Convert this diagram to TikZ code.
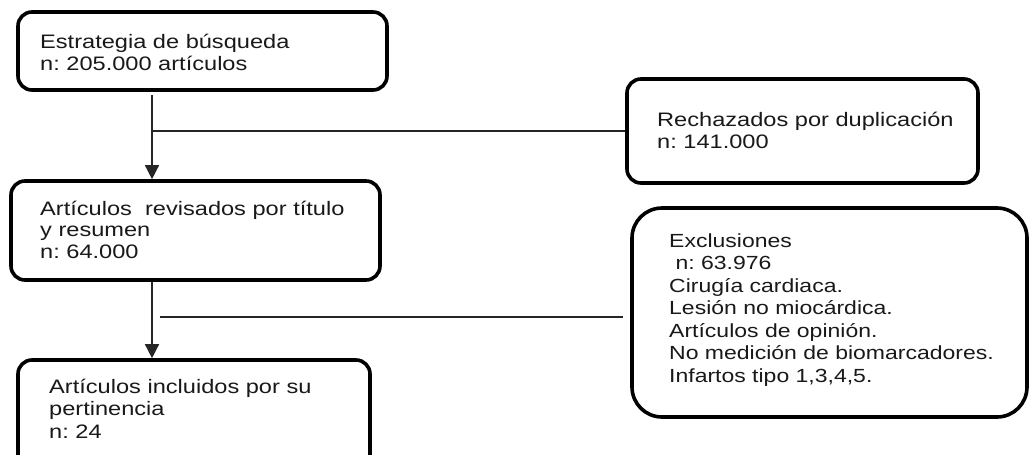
\documentclass[tikz,border=0pt]{standalone}
\usepackage{fontspec}
\setmainfont{Liberation Sans}[FakeStretch=1.21]
\usetikzlibrary{arrows.meta}
\frenchspacing
\begin{document}
\begin{tikzpicture}[x=1pt,y=-1pt,
  box/.style={draw=black, line width=3.6pt, rounded corners=14pt, inner sep=0pt, fill=white},
  txt/.style={anchor=base west, align=left, inner sep=0pt, font=\fontsize{19.5}{22}\selectfont, text=black!90},
  conn/.style={line width=1.4pt, draw=black!85},
  arr/.style={conn, -{Triangle[width=14pt,length=14pt]}}]
\useasboundingbox (0,0) rectangle (1031,455);
\clip (0,0) rectangle (1031,455);
\fill[white] (0,0) rectangle (1031,455);

% boxes
\node[box, minimum width=369pt, minimum height=78pt] (b1) at (202.5,51) {};
\node[box, minimum width=369pt, minimum height=99pt] (b2) at (195.5,230.5) {};
\node[box, minimum width=351pt, minimum height=104pt] (b3) at (802.5,131) {};
\node[box, minimum width=352pt, minimum height=110pt] (b4) at (194,415) {};
\node[box, rounded corners=30pt, minimum width=395pt, minimum height=209pt] (b5) at (829.5,312.5) {};

% texts (anchor = baseline of the last line)
\node[txt] (t1) at (40,70) {Estrategia de búsqueda\\n: 205.000 artículos};
\node[txt, font=\fontsize{19.5}{21.5}\selectfont] (t2) at (40,258) {Artículos\ \ revisados por título\\y resumen\\n: 64.000};
\node[txt] (t3) at (657,148) {Rechazados por duplicación\\n: 141.000};
\node[txt, font=\fontsize{19.5}{22.5}\selectfont] (t4) at (49,438) {Artículos incluidos por su\\pertinencia\\n: 24};
\node[txt, font=\fontsize{19}{22.45}\selectfont] (t5) at (669,382) {Exclusiones\\\ n: 63.976\\Cirugía cardiaca.\\Lesión no miocárdica.\\Artículos de opinión.\\No medición de biomarcadores.\\Infartos tipo 1,3,4,5.};

% connectors
\coordinate (c1) at (152,95);
\coordinate (j1) at (152,131);
\coordinate (j2) at (160,317);
\coordinate (e2) at (623,317);
\draw[arr] (c1) -- (c1 |- b2.north);
\draw[conn] (j1) -- (b3.west);
\draw[arr] (c1 |- b2.south) -- (c1 |- b4.north);
\draw[conn] (j2) -- (e2);
\end{tikzpicture}
\end{document}
